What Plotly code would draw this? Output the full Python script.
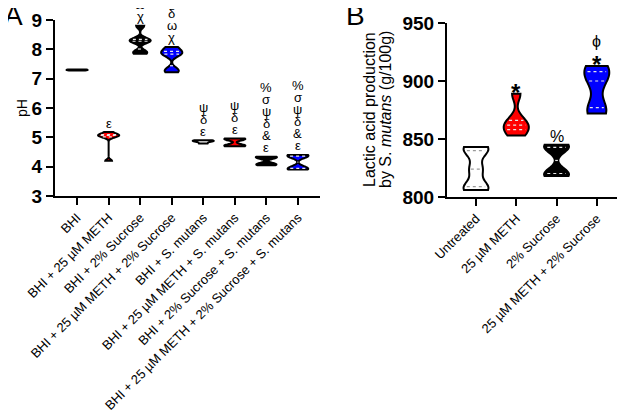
import numpy as np
import plotly.graph_objects as go

# ---------------- data ----------------
cats_a = ["BHI", "BHI + 25 µM METH", "BHI + 2% Sucrose", "BHI + 25 µM METH + 2% Sucrose",
          "BHI + S. mutans", "BHI + 25 µM METH + S. mutans",
          "BHI + 2% Sucrose + S. mutans", "BHI + 25 µM METH + 2% Sucrose + S. mutans"]
ph_bhi = [7.28, 7.30, 7.31]
ph_meth = [4.2, 5.0, 5.05, 5.08, 5.1, 5.18]
ph_suc = [7.85, 7.93, 8.25, 8.3, 8.35, 8.8]
ph_meth_suc = [7.22, 7.32, 7.8, 7.87, 7.95, 8.08]
ph_sm = [4.79, 4.86, 4.88, 4.9]
ph_meth_sm = [4.7, 4.73, 4.93, 4.96]
ph_suc_sm = [4.05, 4.1, 4.3, 4.34]
ph_meth_suc_sm = [3.9, 3.96, 4.35, 4.4]
ph_groups = [ph_bhi, ph_meth, ph_suc, ph_meth_suc, ph_sm, ph_meth_sm, ph_suc_sm, ph_meth_suc_sm]
sig_a = [[], ["ε"], ["χ", "ω"], ["χ", "ω", "δ"], ["ε", "δ", "ψ"], ["ε", "δ", "ψ"],
         ["ε", "&", "δ", "ψ", "σ", "%"], ["ε", "&", "δ", "ψ", "σ", "%"]]
ticks_a = [3, 4, 5, 6, 7, 8, 9]

cats_b = ["Untreated", "25 µM METH", "2% Sucrose", "25 µM METH + 2% Sucrose"]
la_untreated = [806, 809, 824, 840, 843]
la_meth = [853, 858, 862, 866, 889]
la_suc = [818, 821, 842, 845]
la_meth_suc = [872, 877, 900, 908, 913]
la_groups = [la_untreated, la_meth, la_suc, la_meth_suc]
sig_b = [[], ["*"], ["%"], ["*", "ϕ"]]
ticks_b = [800, 850, 900, 950]

# ---------------- styles ----------------
fills_a = ["white", "#ff0000", "black", "#0000ff", "white", "#ff0000", "black", "#0000ff"]
bw_a = [0.02, 0.05, 0.08, 0.1, 0.03, 0.05, 0.05, 0.08]
fills_b = ["white", "#ff0000", "black", "#0000ff"]
bw_b = [6, 6, 5, 9]
W_A = 0.67
W_B = 0.62
FONT = "Liberation Sans, Arial, sans-serif"
FIG_W, FIG_H, OFF = 617, 405, 8


def X(px):
    return (px - OFF) / FIG_W


def Y(py):
    return 1 - (py - OFF) / FIG_H


fig = go.Figure()
shapes = []


def kde(y, vals, bw):
    v = np.asarray(vals, float)
    return np.exp(-0.5 * ((y[:, None] - v[None, :]) / bw) ** 2).sum(axis=1)


def add_group(i, vals, col, bw, width, xa, ya, yspan):
    fig.add_trace(go.Violin(
        x=[i] * len(vals), y=vals, xaxis=xa, yaxis=ya,
        fillcolor=col, line=dict(color="black", width=2), width=width,
        bandwidth=bw, spanmode="hard", points=False, scalemode="width",
        box_visible=False, meanline_visible=False, hoverinfo="skip",
        showlegend=False))
    v = np.asarray(vals, float)
    if v.max() - v.min() < 0.05 * yspan:
        return
    grid = np.linspace(v.min(), v.max(), 400)
    dmax = kde(grid, v, bw).max()
    qcol = "#9a9a9a" if col == "white" else "#e8e8e8"
    for q in np.percentile(v, [25, 50, 75]):
        hw = width / 2 * kde(np.array([q]), v, bw)[0] / dmax * 0.75
        shapes.append(dict(type="line", xref=xa, yref=ya, x0=i - hw, x1=i + hw, y0=q, y1=q,
                           line=dict(color=qcol, width=1.2, dash="dot")))


for i, (vals, col, bw) in enumerate(zip(ph_groups, fills_a, bw_a)):
    add_group(i, vals, col, bw, W_A, "x", "y", 6)
for i, (vals, col, bw) in enumerate(zip(la_groups, fills_b, bw_b)):
    add_group(i, vals, col, bw, W_B, "x2", "y2", 150)


def sym_ann(i, y, s, xa, ya, shift, size):
    if s == "*":
        return dict(x=i, y=y, xref=xa, yref=ya, text="<b>*</b>", showarrow=False,
                    xanchor="center", yanchor="middle", yshift=shift - 7,
                    font=dict(size=size + 8, family=FONT, color="black"))
    return dict(x=i, y=y, xref=xa, yref=ya, text=s, showarrow=False,
                xanchor="center", yanchor="middle", yshift=shift,
                font=dict(size=size, family=FONT, color="black"))


annotations = []
for i, (vals, syms) in enumerate(zip(ph_groups, sig_a)):
    for k, s in enumerate(syms):
        annotations.append(sym_ann(i, max(vals), s, "x", "y", 9 + 12 * k, 13))
for i, (vals, syms) in enumerate(zip(la_groups, sig_b)):
    for k, s in enumerate(syms):
        annotations.append(sym_ann(i, max(vals), s, "x2", "y2", 8 + 16 * k, 16))

txt = dict(xref="paper", yref="paper", showarrow=False, xanchor="center", yanchor="middle")
annotations += [
    dict(x=X(22), y=Y(108), text="pH", textangle=-90,
         font=dict(size=14, family=FONT, color="black"), **txt),
    dict(x=X(370), y=Y(110), text="Lactic acid production", textangle=-90,
         font=dict(size=16, family=FONT, color="black"), **txt),
    dict(x=X(386), y=Y(110), text="by S. <i>mutans</i> (g/100g)", textangle=-90,
         font=dict(size=16, family=FONT, color="black"), **txt),
    dict(x=X(13), y=Y(16), text="A", font=dict(size=28, family=FONT, color="black"), **txt),
    dict(x=X(355), y=Y(16), text="B", font=dict(size=28, family=FONT, color="black"), **txt),
]

axis_common = dict(showline=True, linecolor="black", linewidth=2, ticks="outside", ticklen=7,
                   tickwidth=2, tickcolor="black", showgrid=False, zeroline=False,
                   automargin=False)

fig.update_layout(
    width=FIG_W, height=FIG_H, margin=dict(l=0, r=0, t=0, b=0),
    paper_bgcolor="white", plot_bgcolor="white", violinmode="overlay", showlegend=False,
    font=dict(family=FONT, color="black"),
    xaxis=dict(domain=[X(55), X(320)], range=[-0.7, 7.7], tickvals=list(range(len(cats_a))),
               ticktext=cats_a, tickangle=-45, tickfont=dict(size=13), anchor="y", **axis_common),
    yaxis=dict(domain=[Y(196), Y(20)], range=[3, 9], tickvals=ticks_a,
               ticktext=[f"<b>{t}</b>" for t in ticks_a], tickfont=dict(size=19), anchor="x",
               **axis_common),
    xaxis2=dict(domain=[X(447), 1.0], range=[-0.72, 3.7], tickvals=list(range(len(cats_b))),
                ticktext=cats_b, tickangle=-45, tickfont=dict(size=13), anchor="y2", **axis_common),
    yaxis2=dict(domain=[Y(197), Y(23)], range=[800, 950], tickvals=ticks_b,
                ticktext=[f"<b>{t}</b>" for t in ticks_b], tickfont=dict(size=19), anchor="x2",
                **axis_common),
    shapes=shapes, annotations=annotations,
)

fig.write_html("out.html")
